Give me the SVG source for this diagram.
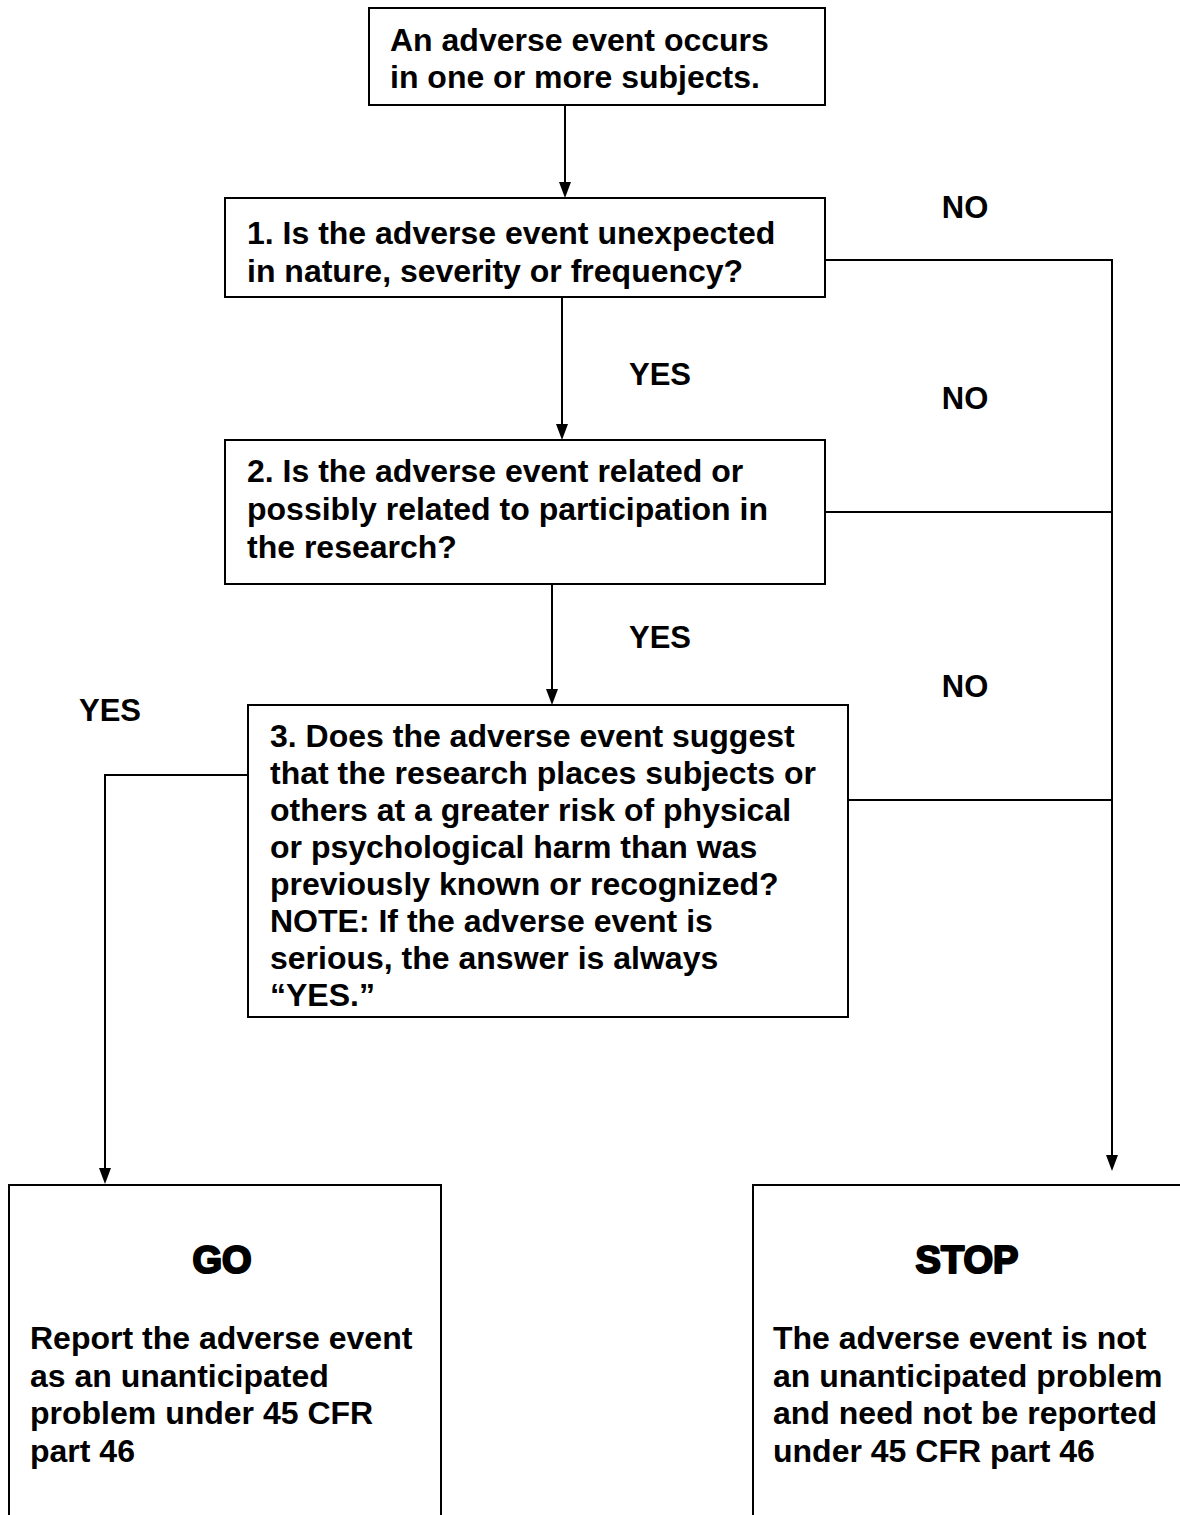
<svg xmlns="http://www.w3.org/2000/svg" width="1180" height="1515" viewBox="0 0 1180 1515">
<defs>
<style>
.box{fill:#fff;stroke:#000;stroke-width:2}
.t{font-family:"Liberation Sans",Arial,sans-serif;font-weight:bold;font-size:32px;fill:#000}
.lbl{font-family:"Liberation Sans",Arial,sans-serif;font-weight:bold;font-size:31px;fill:#000;text-anchor:middle}
.big{font-family:"Liberation Sans",Arial,sans-serif;font-weight:bold;font-size:38px;fill:#000;stroke:#000;stroke-width:2.2;stroke-linejoin:round;text-anchor:middle}
.ln{fill:none;stroke:#000;stroke-width:2}
</style>
</defs>
<rect width="1180" height="1515" fill="#fff"/>
<g id="connectors">
<path class="ln" d="M565,105 V183"/><path d="M559,182 L571,182 L565,198 Z"/>
<path class="ln" d="M562,297 V425"/><path d="M556,424 L568,424 L562,440 Z"/>
<path class="ln" d="M552,584 V690"/><path d="M546,689 L558,689 L552,705 Z"/>
<path class="ln" d="M825,260 H1112 V1156"/><path d="M1106,1155 L1118,1155 L1112,1171 Z"/>
<path class="ln" d="M825,512 H1112"/>
<path class="ln" d="M848,800 H1112"/>
<path class="ln" d="M248,775 H105 V1169"/><path d="M99,1168 L111,1168 L105,1184 Z"/>
</g>
<g id="labels">
<text class="lbl" x="965" y="218">NO</text>
<text class="lbl" x="660" y="385">YES</text>
<text class="lbl" x="965" y="409">NO</text>
<text class="lbl" x="660" y="648">YES</text>
<text class="lbl" x="965" y="697">NO</text>
<text class="lbl" x="110" y="721">YES</text>
</g>
<g id="start">
<rect class="box" x="369" y="8" width="456" height="97"/>
<text class="t" x="390" y="51">An adverse event occurs</text>
<text class="t" x="390" y="88">in one or more subjects.</text>
</g>
<g id="q1">
<rect class="box" x="225" y="198" width="600" height="99"/>
<text class="t" x="247" y="244">1. Is the adverse event unexpected</text>
<text class="t" x="247" y="282">in nature, severity or frequency?</text>
</g>
<g id="q2">
<rect class="box" x="225" y="440" width="600" height="144"/>
<text class="t" x="247" y="482">2. Is the adverse event related or</text>
<text class="t" x="247" y="520">possibly related to participation in</text>
<text class="t" x="247" y="558">the research?</text>
</g>
<g id="q3">
<rect class="box" x="248" y="705" width="600" height="312"/>
<text class="t" x="270" y="747">3. Does the adverse event suggest</text>
<text class="t" x="270" y="784">that the research places subjects or</text>
<text class="t" x="270" y="821">others at a greater risk of physical</text>
<text class="t" x="270" y="858">or psychological harm than was</text>
<text class="t" x="270" y="895">previously known or recognized?</text>
<text class="t" x="270" y="932">NOTE: If the adverse event is</text>
<text class="t" x="270" y="969">serious, the answer is always</text>
<text class="t" x="270" y="1006">“YES.”</text>
</g>
<g id="go">
<path class="ln" d="M9,1520 V1185 H441 V1520"/>
<text class="big" x="222" y="1273">GO</text>
<text class="t" x="30" y="1349">Report the adverse event</text>
<text class="t" x="30" y="1387">as an unanticipated</text>
<text class="t" x="30" y="1424">problem under 45 CFR</text>
<text class="t" x="30" y="1462">part 46</text>
</g>
<g id="stop">
<path class="ln" d="M753,1520 V1185 H1182"/>
<text class="big" x="967" y="1273">STOP</text>
<text class="t" x="773" y="1349">The adverse event is not</text>
<text class="t" x="773" y="1387">an unanticipated problem</text>
<text class="t" x="773" y="1424">and need not be reported</text>
<text class="t" x="773" y="1462">under 45 CFR part 46</text>
</g>
</svg>
